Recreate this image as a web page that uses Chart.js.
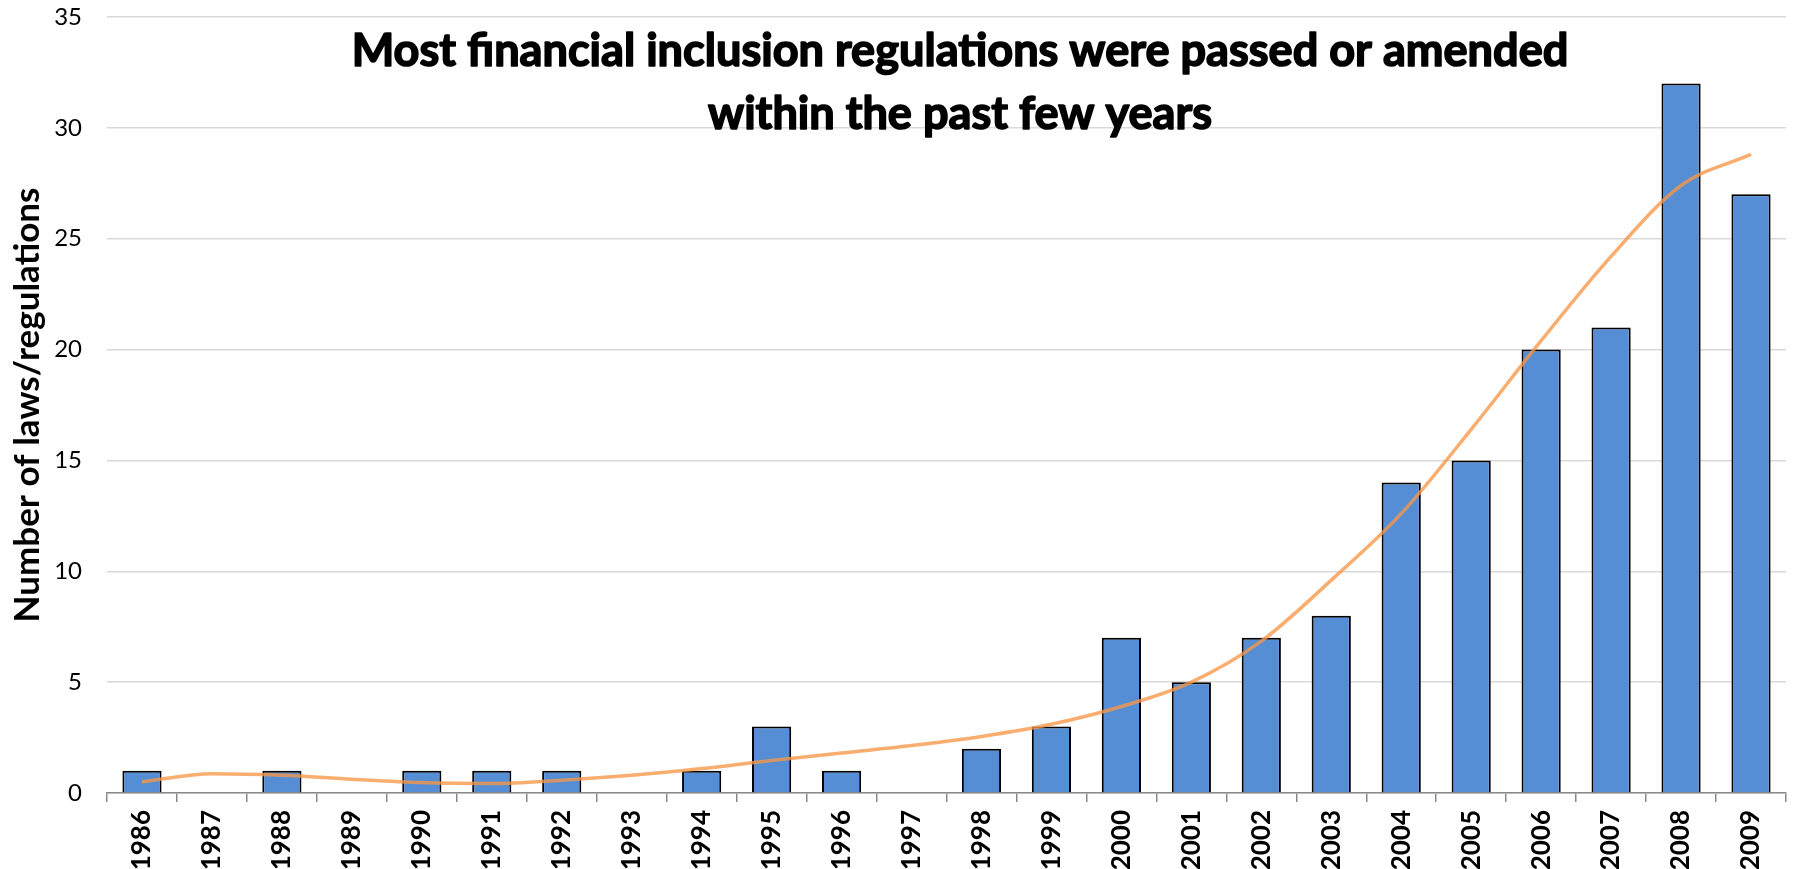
<!DOCTYPE html>
<html>
<head>
<meta charset="utf-8">
<script src="https://cdn.jsdelivr.net/npm/chart.js@4.4.1/dist/chart.umd.min.js"></script>
<style>
  html, body { margin: 0; padding: 0; background: #fff; }
  #wrap { width: 1794px; height: 869px; }
</style>
</head>
<body>
<div id="wrap"><canvas id="c" width="1794" height="869"></canvas></div>
<script>
const years = ['1986','1987','1988','1989','1990','1991','1992','1993','1994','1995','1996','1997',
               '1998','1999','2000','2001','2002','2003','2004','2005','2006','2007','2008','2009'];
const lawCounts = [1,0,1,0,1,1,1,0,1,3,1,0,2,3,7,5,7,8,14,15,20,21,32,27];
const trendValues = [0.5,0.87,0.8,0.62,0.47,0.43,0.58,0.8,1.1,1.47,1.8,2.14,2.55,3.1,3.9,5.0,6.85,9.6,12.6,16.4,20.4,24.2,27.4,28.8];
const yTicks = [0,5,10,15,20,25,30,35];
const titleLines = ['Most financial inclusion regulations were passed or amended', 'within the past few years'];
const yTitle = 'Number of laws/regulations';

const titlePlugin = {
  id: 'innerTitle',
  afterDraw(chart) {
    const ctx = chart.ctx;
    ctx.save();
    const fam = 'Lato, "Open Sans", sans-serif';
    ctx.font = 'bold 100px ' + fam;
    const w = ctx.measureText(titleLines[0]).width;
    const size = 100 * 1218 / w;
    ctx.font = 'bold ' + size.toFixed(1) + 'px ' + fam;
    ctx.fillStyle = '#000';
    ctx.strokeStyle = '#000';
    ctx.lineWidth = 1.6;
    ctx.lineJoin = 'round';
    ctx.textAlign = 'center';
    ctx.textBaseline = 'alphabetic';
    ctx.fillText(titleLines[0], 960, 66);
    ctx.strokeText(titleLines[0], 960, 66);
    ctx.fillText(titleLines[1], 960, 129);
    ctx.strokeText(titleLines[1], 960, 129);
    ctx.restore();
  }
};

new Chart(document.getElementById('c'), {
  data: {
    labels: years,
    datasets: [
      {
        type: 'line',
        label: 'Trend',
        data: trendValues,
        borderColor: 'rgba(247,150,70,0.78)',
        borderWidth: 3.5,
        pointRadius: 0,
        cubicInterpolationMode: 'monotone',
        fill: false,
        order: 0
      },
      {
        type: 'bar',
        label: 'Laws/regulations',
        data: lawCounts,
        backgroundColor: '#558ED5',
        borderColor: '#000',
        borderWidth: (c) => (c.raw === 0 ? 0 : 2),
        borderSkipped: 'bottom',
        barPercentage: 0.56,
        categoryPercentage: 1.0,
        order: 1
      }
    ]
  },
  options: {
    responsive: false,
    animation: false,
    devicePixelRatio: 1,
    layout: { padding: { top: 17, right: 8, left: 0, bottom: 0 } },
    plugins: { legend: { display: false }, tooltip: { enabled: false }, title: { display: false } },
    scales: {
      x: {
        offset: true,
        grid: { offset: true, drawOnChartArea: false, drawTicks: true, tickLength: 9, color: '#898989', lineWidth: 1.5 },
        border: { display: true, color: '#898989', width: 1.5 },
        ticks: {
          color: '#000',
          font: { family: 'Lato, "Open Sans", sans-serif', size: 26, weight: 'bold' },
          maxRotation: 90, minRotation: 90, padding: 8, autoSkip: false
        },
        afterFit(axis) { axis.height = 76; axis.paddingLeft = 0; axis.paddingRight = 0; }
      },
      y: {
        min: 0, max: 35,
        afterBuildTicks(axis) { axis.ticks = yTicks.map(v => ({ value: v })); },
        grid: { color: '#d9d9d9', lineWidth: 1.5, drawTicks: false },
        border: { display: false },
        ticks: {
          color: '#000',
          font: { family: 'Lato, "Open Sans", sans-serif', size: 24 },
          padding: 25
        },
        title: {
          display: true,
          text: yTitle,
          color: '#000',
          font: { family: 'Lato, "Open Sans", sans-serif', size: 35, weight: 'bold' },
          padding: { top: 7, bottom: 0 }
        },
        afterFit(axis) { axis.width = 107; axis.paddingTop = 0; axis.paddingBottom = 0; }
      }
    }
  },
  plugins: [titlePlugin]
});
</script>
</body>
</html>
